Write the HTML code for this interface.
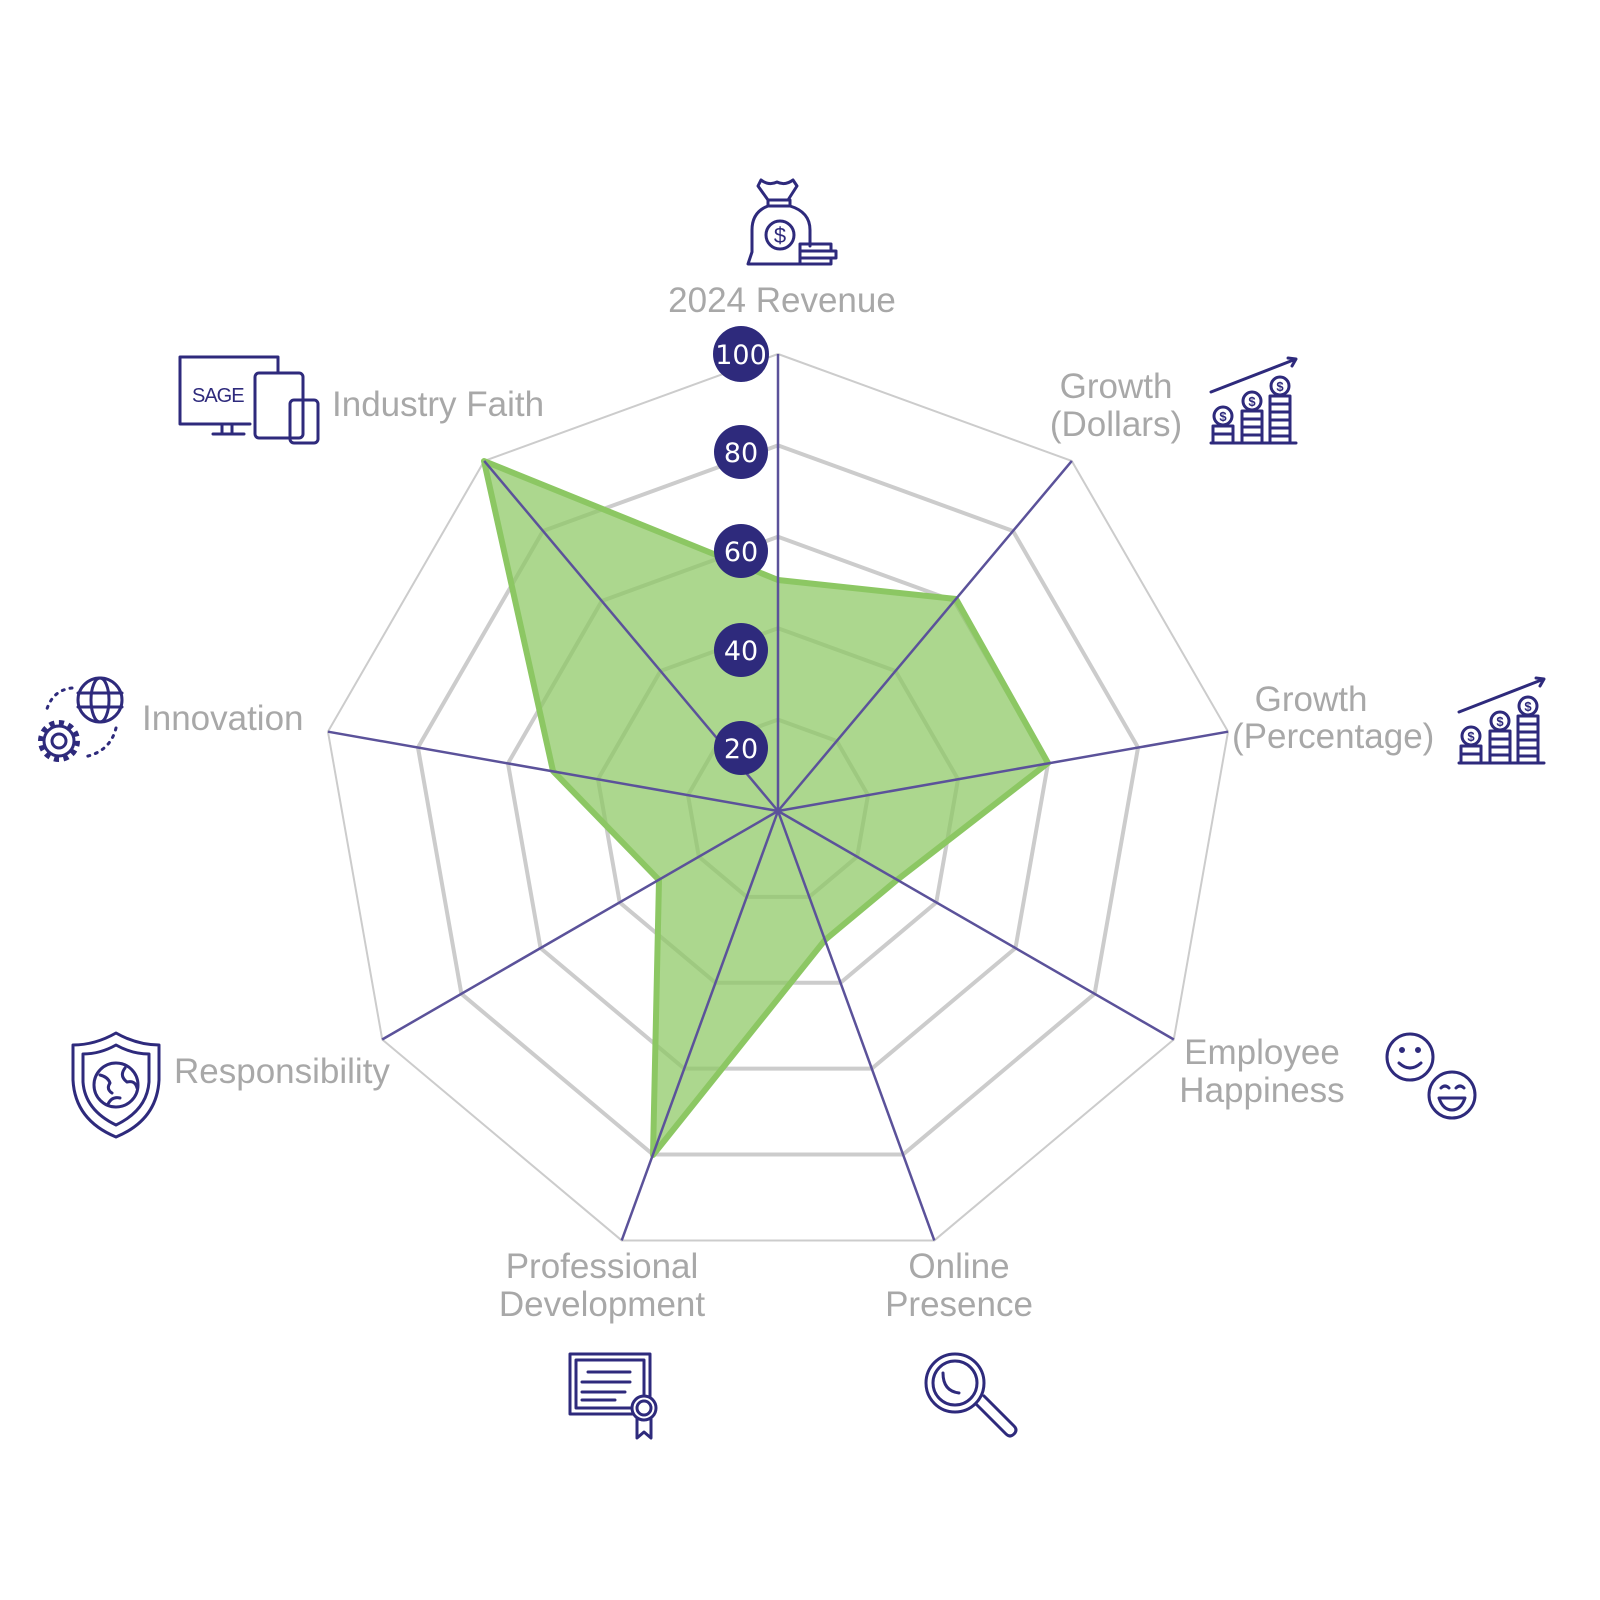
<!DOCTYPE html>
<html><head><meta charset="utf-8"><style>
html,body{margin:0;padding:0;background:#fff;}
svg{display:block;}
.lbl{font-family:"Liberation Sans",sans-serif;font-size:35px;fill:#a8a8a8;}
.num{font-family:"DejaVu Sans","Liberation Sans",sans-serif;font-size:27px;fill:#fff;text-anchor:middle;}
.ic{fill:none;stroke:#2e2a7c;stroke-width:3;stroke-linejoin:round;stroke-linecap:round;}
.dl{font-family:"Liberation Sans",sans-serif;font-size:13px;font-weight:bold;fill:#2e2a7c;stroke:none;text-anchor:middle;}
</style></head><body>
<svg width="1600" height="1600" viewBox="0 0 1600 1600" xmlns="http://www.w3.org/2000/svg">
<g fill="none" stroke="#cccccc">
<polygon vector-effect="non-scaling-stroke" stroke-width="4" transform="translate(778 811) scale(91.4)" points="0,-1 .6428,-.766 .9848,-.1736 .866,.5 .342,.9397 -.342,.9397 -.866,.5 -.9848,-.1736 -.6428,-.766"/>
<polygon vector-effect="non-scaling-stroke" stroke-width="4" transform="translate(778 811) scale(182.8)" points="0,-1 .6428,-.766 .9848,-.1736 .866,.5 .342,.9397 -.342,.9397 -.866,.5 -.9848,-.1736 -.6428,-.766"/>
<polygon vector-effect="non-scaling-stroke" stroke-width="4" transform="translate(778 811) scale(274.2)" points="0,-1 .6428,-.766 .9848,-.1736 .866,.5 .342,.9397 -.342,.9397 -.866,.5 -.9848,-.1736 -.6428,-.766"/>
<polygon vector-effect="non-scaling-stroke" stroke-width="4" transform="translate(778 811) scale(365.6)" points="0,-1 .6428,-.766 .9848,-.1736 .866,.5 .342,.9397 -.342,.9397 -.866,.5 -.9848,-.1736 -.6428,-.766"/>
<polygon vector-effect="non-scaling-stroke" stroke-width="2" transform="translate(778 811) scale(457)" points="0,-1 .6428,-.766 .9848,-.1736 .866,.5 .342,.9397 -.342,.9397 -.866,.5 -.9848,-.1736 -.6428,-.766"/>
</g>
<polygon points="778,580 956,599 1048,763 897,880 825,940 653,1155 659,880 553,771 484,461" fill="rgba(140,199,99,0.72)" stroke="#8cc763" stroke-width="6" stroke-linejoin="round"/>
<g stroke="#5b529a" stroke-width="2.5" transform="translate(778 811)">
<line x1="0" y1="0" x2="0" y2="-457"/>
<line x1="0" y1="0" x2="293.8" y2="-350.1"/>
<line x1="0" y1="0" x2="450" y2="-79.3"/>
<line x1="0" y1="0" x2="395.8" y2="228.5"/>
<line x1="0" y1="0" x2="156.3" y2="429.4"/>
<line x1="0" y1="0" x2="-156.3" y2="429.4"/>
<line x1="0" y1="0" x2="-395.8" y2="228.5"/>
<line x1="0" y1="0" x2="-450" y2="-79.3"/>
<line x1="0" y1="0" x2="-293.8" y2="-350.1"/>
</g>
<g fill="#2e2a7c">
<circle cx="741" cy="354" r="28"/><circle cx="741" cy="452" r="27"/><circle cx="741" cy="551" r="27"/><circle cx="741" cy="650" r="27"/><circle cx="741" cy="748" r="27"/>
</g>
<text class="num" x="741" y="364">100</text>
<text class="num" x="741" y="462">80</text>
<text class="num" x="741" y="561">60</text>
<text class="num" x="741" y="660">40</text>
<text class="num" x="741" y="758">20</text>

<text class="lbl" x="782" y="312" text-anchor="middle">2024 Revenue</text>
<text class="lbl" x="332" y="416">Industry Faith</text>
<text class="lbl" x="1116" y="398" text-anchor="middle">Growth</text>
<text class="lbl" x="1116" y="436" text-anchor="middle">(Dollars)</text>
<text class="lbl" x="1311" y="711" text-anchor="middle">Growth</text>
<text class="lbl" x="1232" y="748">(Percentage)</text>
<text class="lbl" x="142" y="730">Innovation</text>
<text class="lbl" x="174" y="1083">Responsibility</text>
<text class="lbl" x="1262" y="1064" text-anchor="middle">Employee</text>
<text class="lbl" x="1262" y="1102" text-anchor="middle">Happiness</text>
<text class="lbl" x="602" y="1278" text-anchor="middle">Professional</text>
<text class="lbl" x="602" y="1316" text-anchor="middle">Development</text>
<text class="lbl" x="959" y="1278" text-anchor="middle">Online</text>
<text class="lbl" x="959" y="1316" text-anchor="middle">Presence</text>

<!-- money bag -->
<g class="ic">
<path d="M761,180 Q769,186 777,182 Q785,186 793,180 L797,186 L788,200 L768,200 L758,186 Z"/>
<rect x="768" y="200" width="22" height="6"/>
<path d="M768,206 Q752,212 752,230 L752,252 L748,264 L800,264 M790,206 Q810,212 810,230 L810,246"/>
<circle cx="780" cy="235" r="14"/>
<text x="780" y="243" font-family="Liberation Sans" font-size="22" fill="#2e2a7c" stroke="none" text-anchor="middle">$</text>
<rect x="800" y="244" width="31" height="7"/><rect x="800" y="251" width="36" height="7"/><rect x="800" y="258" width="31" height="6"/>
</g>
<!-- sage devices -->
<g class="ic">
<path d="M180,357 L180,424 L250,424 M180,357 L278,357 L278,372"/>
<line x1="222" y1="424" x2="222" y2="434"/><line x1="232" y1="424" x2="232" y2="434"/><line x1="213" y1="434" x2="244" y2="434"/>
<rect x="255" y="373" width="48" height="65" rx="4"/>
<rect x="290" y="400" width="28" height="43" rx="4"/>
<text x="192" y="402" font-family="Liberation Sans" font-size="20" fill="#2e2a7c" stroke="none" letter-spacing="-1">SAGE</text>
</g>
<!-- coin stacks -->
<g class="ic" id="coins">
<line x1="1211" y1="443" x2="1296" y2="443"/>
<path d="M1213,426 l0,17 M1233,426 l0,17 M1213,426 h20 M1213,434 h20"/>
<circle cx="1223" cy="416" r="9"/>
<path d="M1242,411 l0,32 M1262,411 l0,32 M1242,411 h20 M1242,419 h20 M1242,427 h20 M1242,435 h20"/>
<circle cx="1252" cy="401" r="9"/>
<path d="M1270,396 l0,47 M1290,396 l0,47 M1270,396 h20 M1270,404 h20 M1270,412 h20 M1270,420 h20 M1270,428 h20 M1270,436 h20"/>
<circle cx="1280" cy="386" r="9"/>
<text class="dl" x="1223" y="421">$</text><text class="dl" x="1252" y="406">$</text><text class="dl" x="1280" y="391">$</text>
<path d="M1211,392 L1296,359 M1288,358 L1296,359 L1292,366"/>
</g>
<use href="#coins" transform="translate(248,320)"/>
<!-- innovation -->
<g class="ic">
<circle cx="100" cy="700" r="22"/><ellipse cx="100" cy="700" rx="9" ry="22"/>
<line x1="78" y1="693" x2="122" y2="693"/><line x1="78" y1="707" x2="122" y2="707"/>
<circle cx="59" cy="741" r="15"/>
<circle cx="59" cy="741" r="18" stroke-width="6" stroke-dasharray="5 4.4" stroke-linecap="butt"/>
<circle cx="59" cy="741" r="7"/>
<path d="M72,688 Q52,690 46,712 M116,728 Q110,752 84,757" stroke-dasharray="2 6"/>
</g>
<!-- shield -->
<g class="ic">
<path d="M116,1033 Q95,1045 73,1045 L73,1080 Q75,1120 116,1137 Q157,1120 159,1080 L159,1045 Q137,1045 116,1033 Z"/>
<path d="M116,1045 Q100,1054 83,1054 L83,1082 Q85,1110 116,1125 Q147,1110 149,1082 L149,1054 Q132,1054 116,1045 Z"/>
<circle cx="116" cy="1085" r="22"/>
<path d="M100,1075 q8,2 10,8 q-4,6 2,10 M125,1068 q-6,8 2,14 q8,-2 10,6 M108,1104 q4,-8 12,-6"/>
</g>
<!-- smileys -->
<g class="ic">
<circle cx="1410" cy="1057" r="23"/><circle cx="1402" cy="1050" r="1.5"/><circle cx="1418" cy="1050" r="1.5"/>
<path d="M1399,1063 q11,10 22,0"/>
<circle cx="1452" cy="1095" r="23"/>
<path d="M1441,1088 q4,-4 8,0 M1456,1088 q4,-4 8,0 M1439,1098 h26 q-4,12 -13,12 q-9,0 -13,-12"/>
</g>
<!-- certificate -->
<g class="ic">
<rect x="570" y="1354" width="80" height="60"/>
<rect x="576" y="1360" width="68" height="48"/>
<line x1="588" y1="1372" x2="630" y2="1372"/><line x1="582" y1="1382" x2="630" y2="1382"/><line x1="582" y1="1392" x2="625" y2="1392"/><line x1="582" y1="1400" x2="615" y2="1400"/>
<circle cx="644" cy="1408" r="12" fill="#fff"/><circle cx="644" cy="1408" r="7"/>
<path d="M637,1419 L637,1438 L644,1432 L651,1438 L651,1419"/>
</g>
<!-- magnifier -->
<g class="ic">
<circle cx="955" cy="1383" r="29"/><circle cx="955" cy="1383" r="22"/>
<path d="M943,1373 q0,18 16,20"/>
<path d="M976,1404 L1006,1434 q4,4 8,0 q4,-4 0,-8 L984,1396"/>
</g>
</svg>
</body></html>
